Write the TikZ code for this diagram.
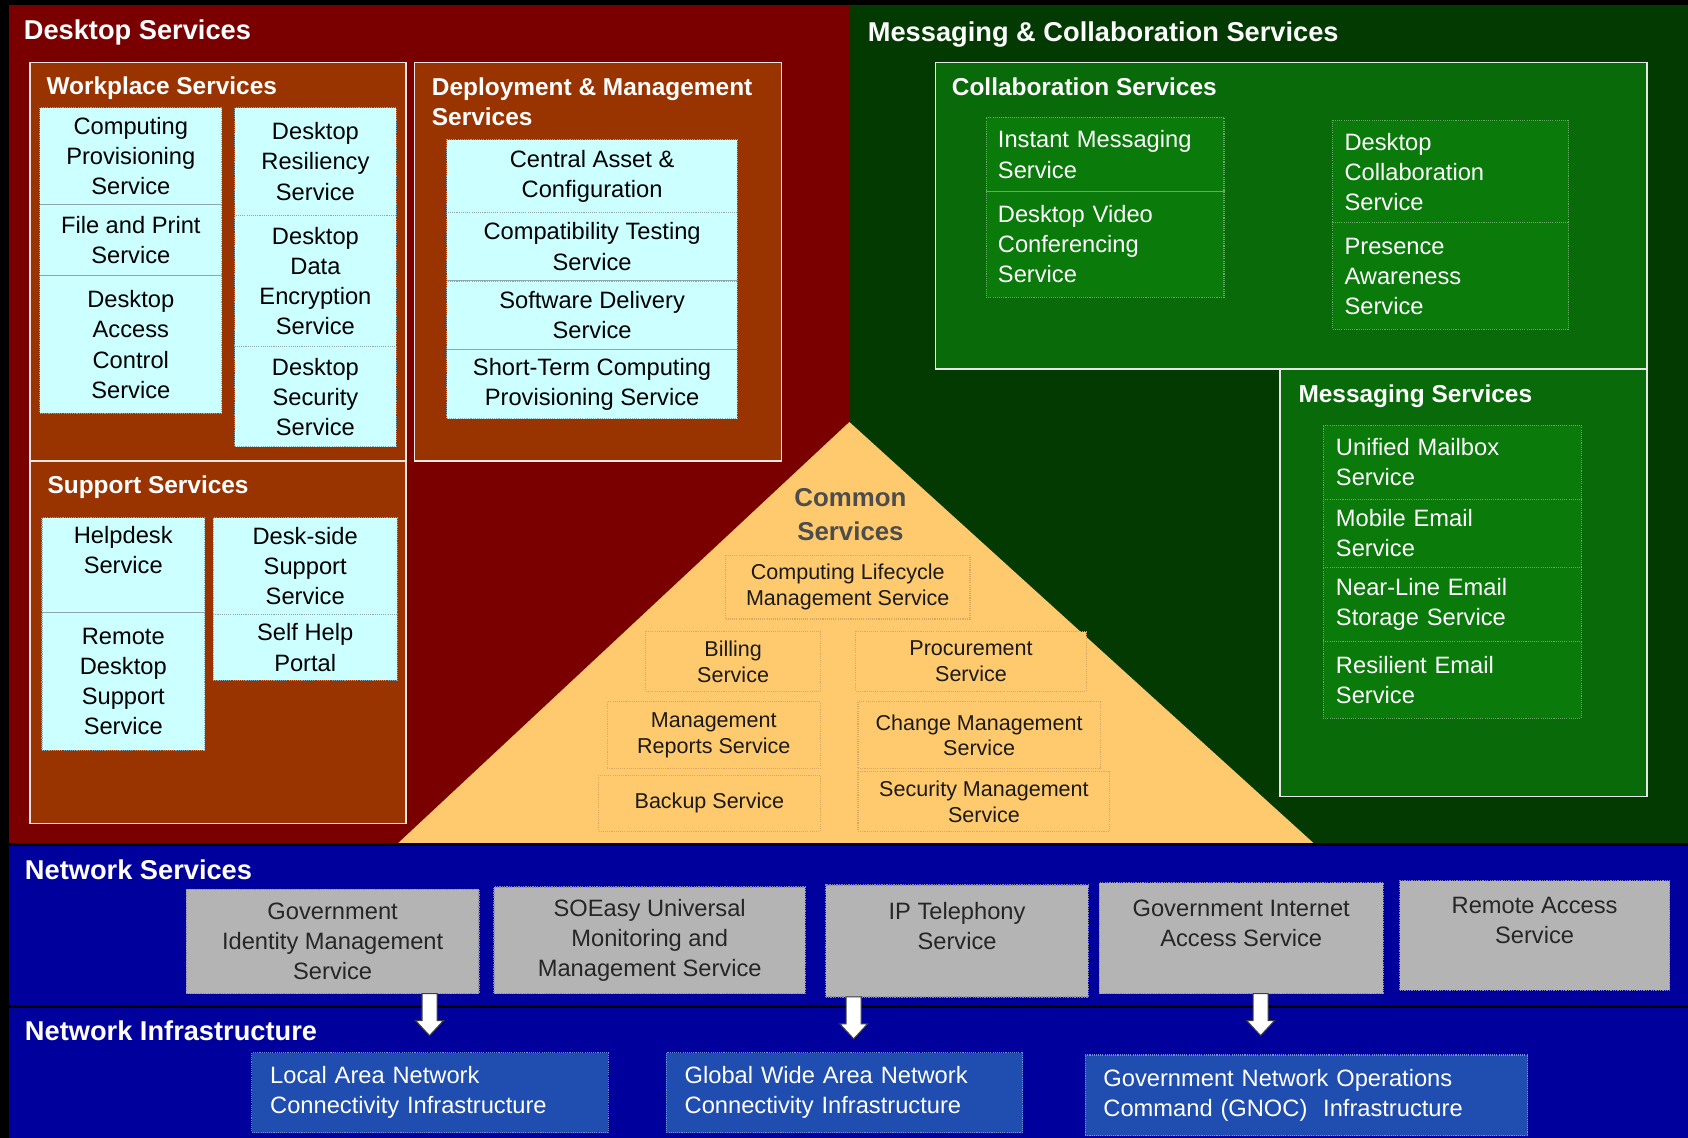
\documentclass[tikz,border=0pt]{standalone}
\usepackage{fontspec}
\setmainfont{Liberation Sans}
\definecolor{deskred}{HTML}{7A0000}
\definecolor{msggreen}{HTML}{023A02}
\definecolor{panelbrown}{HTML}{993300}
\definecolor{cyanfill}{HTML}{CCFFFF}
\definecolor{cyanline}{HTML}{8FA6B0}
\definecolor{collabgreen}{HTML}{086A08}
\definecolor{cellgreen}{HTML}{0A7A0A}
\definecolor{greenline}{HTML}{66AA66}
\definecolor{trifill}{HTML}{FFC96E}
\definecolor{triline}{HTML}{D9A860}
\definecolor{tritext}{HTML}{1A1A1A}
\definecolor{commontitle}{HTML}{4D4D4D}
\definecolor{netblue}{HTML}{00009C}
\definecolor{grayfill}{HTML}{B4B4B4}
\definecolor{grayline}{HTML}{8A8AA8}
\definecolor{infrablue}{HTML}{1F4DB0}
\definecolor{infraline}{HTML}{6F8FD8}
\definecolor{panelline}{HTML}{E6E6E6}
\newcommand\ttlfont{\fontsize{25.3}{28}\selectfont\bfseries}
\newcommand\subfont{\fontsize{22.7}{28}\selectfont\bfseries}
\newcommand\cellfont{\fontsize{22}{28}\selectfont}
\newcommand\smallcellfont{\fontsize{20}{24}\selectfont}
\newcommand\mkbox[7]{%
  \pgfmathsetmacro\mbw{#5-#3}\pgfmathsetmacro\mbh{#6-#4}%
  \pgfmathsetmacro\mbx{(#3+#5)/2}\pgfmathsetmacro\mby{(#4+#6)/2}%
  \node[#1, minimum width=\mbw pt, minimum height=\mbh pt] (#2) at (\mbx,\mby) {#7};}
\newcommand\mkleft[8]{%
  \pgfmathsetmacro\mbw{#5-#3-2*#7}\pgfmathsetmacro\mbh{#6-#4}%
  \pgfmathsetmacro\mbx{(#3+#5)/2}\pgfmathsetmacro\mby{(#4+#6)/2}%
  \node[#1, inner xsep=#7pt, text width=\mbw pt, align=left, minimum height=\mbh pt] (#2) at (\mbx,\mby) {#8};}
\begin{document}
\begin{tikzpicture}[x=1pt,y=-1pt,
  panel/.style={fill=panelbrown, draw=panelline, line width=1.5pt, inner sep=0pt, outer sep=0pt},
  gpanel/.style={fill=collabgreen, draw=panelline, line width=1.5pt, inner sep=0pt, outer sep=0pt},
  cyancell/.style={fill=cyanfill, draw=cyanline, densely dotted, line width=1pt, inner sep=0pt, outer sep=0pt, align=center, text=black, font=\cellfont},
  greencell/.style={fill=cellgreen, draw=greenline, densely dotted, line width=1pt, outer sep=0pt, inner ysep=0pt, text=white, font=\cellfont},
  tricell/.style={fill=trifill, draw=triline, densely dotted, line width=1pt, inner sep=0pt, outer sep=0pt, align=center, text=tritext, font=\smallcellfont},
  graycell/.style={fill=grayfill, draw=grayline, densely dotted, line width=1.2pt, inner sep=0pt, outer sep=0pt, align=center, text=black!85, font=\cellfont},
  infracell/.style={fill=infrablue, draw=infraline, densely dotted, line width=1pt, outer sep=0pt, inner ysep=0pt, text=white, font=\cellfont},
  ttl/.style={anchor=west, inner sep=0pt, text=white, font=\ttlfont, text height=0.72em, text depth=0pt},
  subttl/.style={anchor=west, inner sep=0pt, text=white, font=\subfont, align=left, text height=0.72em, text depth=0pt},
  fatarrow/.style={fill=white, draw=black!75, line width=1pt, line join=miter}
]
\useasboundingbox (0,0) rectangle (1568,1057);
\fill[black] (0,0) rectangle (1568,1057);
% regions
\fill[deskred] (8,5) rectangle (789,783);
\fill[msggreen] (789,5) rectangle (1568,783);
\fill[netblue] (8,786) rectangle (1568,1057);
\draw[black, line width=3pt] (8,935) -- (1568,935);
% common services triangle
\fill[trifill] (370,783) -- (789,392) -- (1220,783) -- cycle;
% titles of regions
\node[ttl] (tdesk) at (22,33) {Desktop Services};
\node[ttl] (tmsg) at (806,35) {Messaging \& Collaboration Services};
\node[ttl] (tnet) at (23,813) {Network Services};
\node[ttl] (tinf) at (23,963) {Network Infrastructure};
% desktop panels
\mkbox{panel}{wp}{28}{58}{377}{428}{}
\mkbox{panel}{sp}{28}{428}{377}{765}{}
\mkbox{panel}{dm}{385}{58}{726}{428}{}
\node[subttl] (twp) at (43,84) {Workplace Services};
\node[subttl] (tsp) at (44,455) {Support Services};
\node[anchor=north west, inner sep=0pt, text=white, font=\subfont, align=left] (tdm) at (401,72) {Deployment \& Management\\Services};
% workplace cells
\mkbox{cyancell}{c1}{37}{100}{206}{190}{Computing\\Provisioning\\Service}
\mkbox{cyancell}{c2}{37}{190}{206}{256}{File and Print\\Service}
\mkbox{cyancell}{c3}{37}{256}{206}{384}{Desktop\\Access\\Control\\Service}
\mkbox{cyancell}{c4}{218}{100}{368}{200}{Desktop\\Resiliency\\Service}
\mkbox{cyancell}{c5}{218}{200}{368}{322}{Desktop\\Data\\Encryption\\Service}
\mkbox{cyancell}{c6}{218}{322}{368}{415}{Desktop\\Security\\Service}
% deployment cells
\mkbox{cyancell}{d1}{415}{130}{685}{197}{Central Asset \&\\Configuration}
\mkbox{cyancell}{d2}{415}{197}{685}{261}{Compatibility Testing\\Service}
\mkbox{cyancell}{d3}{415}{261}{685}{325}{Software Delivery\\Service}
\mkbox{cyancell}{d4}{415}{325}{685}{389}{Short-Term Computing\\Provisioning Service}
% support cells
\mkbox{cyancell}{s1}{39}{481}{190}{569}{Helpdesk\\Service\\\mbox{}}
\mkbox{cyancell}{s2}{39}{569}{190}{697}{Remote\\Desktop\\Support\\Service}
\mkbox{cyancell}{s3}{198}{481}{369}{571}{Desk-side\\Support\\Service}
\mkbox{cyancell}{s4}{198}{571}{369}{632}{Self Help\\Portal}
% common services
\node[inner sep=0pt, align=center, text=commontitle, font=\fontsize{24}{31}\selectfont\bfseries] (tcom) at (790,478) {Common\\Services};
\mkbox{tricell}{t1}{674}{516}{901}{575}{Computing Lifecycle\\Management Service}
\mkbox{tricell}{t2}{600}{587}{762}{642}{Billing\\Service}
\mkbox{tricell}{t3}{795}{587}{1009}{642}{Procurement\\Service}
\mkbox{tricell}{t4}{564}{652}{762}{714}{Management\\Reports Service}
\mkbox{tricell}{t5}{797}{652}{1022}{714}{Change Management\\Service}
\mkbox{tricell}{t6}{556}{720}{762}{772}{Backup Service}
\mkbox{tricell}{t7}{797}{717}{1031}{772}{Security Management\\Service}
% collaboration and messaging
\mkbox{gpanel}{cp}{869}{58}{1530}{343}{}
\mkbox{gpanel}{mp}{1189}{343}{1530}{740}{}
\node[subttl] (tcp) at (884,85) {Collaboration Services};
\node[subttl] (tmp) at (1206,370) {Messaging Services};
\mkleft{greencell}{g1}{916}{109}{1137}{178}{11}{Instant Messaging\\Service}
\mkleft{greencell}{g2}{916}{178}{1137}{276}{11}{Desktop Video\\Conferencing\\Service}
\mkleft{greencell}{g3}{1238}{112}{1457}{207}{11}{Desktop\\Collaboration\\Service}
\mkleft{greencell}{g4}{1238}{207}{1457}{306}{11}{Presence\\Awareness\\Service}
\mkleft{greencell}{m1}{1229}{395}{1469}{464}{12}{Unified Mailbox\\Service}
\mkleft{greencell}{m2}{1229}{464}{1469}{527}{12}{Mobile Email\\Service}
\mkleft{greencell}{m3}{1229}{527}{1469}{596}{12}{Near-Line Email\\Storage Service}
\mkleft{greencell}{m4}{1229}{596}{1469}{667}{12}{Resilient Email\\Service}
% network services
\mkbox{graycell}{n1}{173}{826}{445}{923}{Government\\Identity Management\\Service}
\mkbox{graycell}{n2}{459}{824}{748}{923}{SOEasy Universal\\Monitoring and\\Management Service}
\mkbox{graycell}{n3}{767}{822}{1011}{926}{IP Telephony\\Service\\\mbox{}}
\mkbox{graycell}{n4}{1021}{820}{1285}{923}{Government Internet\\Access Service\\\mbox{}}
\mkbox{graycell}{n5}{1300}{818}{1551}{920}{Remote Access\\Service\\\mbox{}}
% network infrastructure
\mkleft{infracell}{i1}{234}{978}{565}{1052}{17}{Local Area Network\\Connectivity Infrastructure}
\mkleft{infracell}{i2}{619}{978}{950}{1052}{17}{Global Wide Area Network\\Connectivity Infrastructure}
\mkleft{infracell}{i3}{1008}{980}{1419}{1055}{17}{Government Network Operations\\Command (GNOC) \ Infrastructure}
% arrows
\coordinate (a1) at (399,923);
\coordinate (a2) at (793,926);
\coordinate (a3) at (1171,923);
\foreach \a in {a1,a2,a3}{
  \draw[fatarrow] ([xshift=-7pt]\a) -- ++(14,0) -- ++(0,25) -- ++(6,0) -- ++(-13,14) -- ++(-13,-14) -- ++(6,0) -- cycle;
}
\end{tikzpicture}
\end{document}
